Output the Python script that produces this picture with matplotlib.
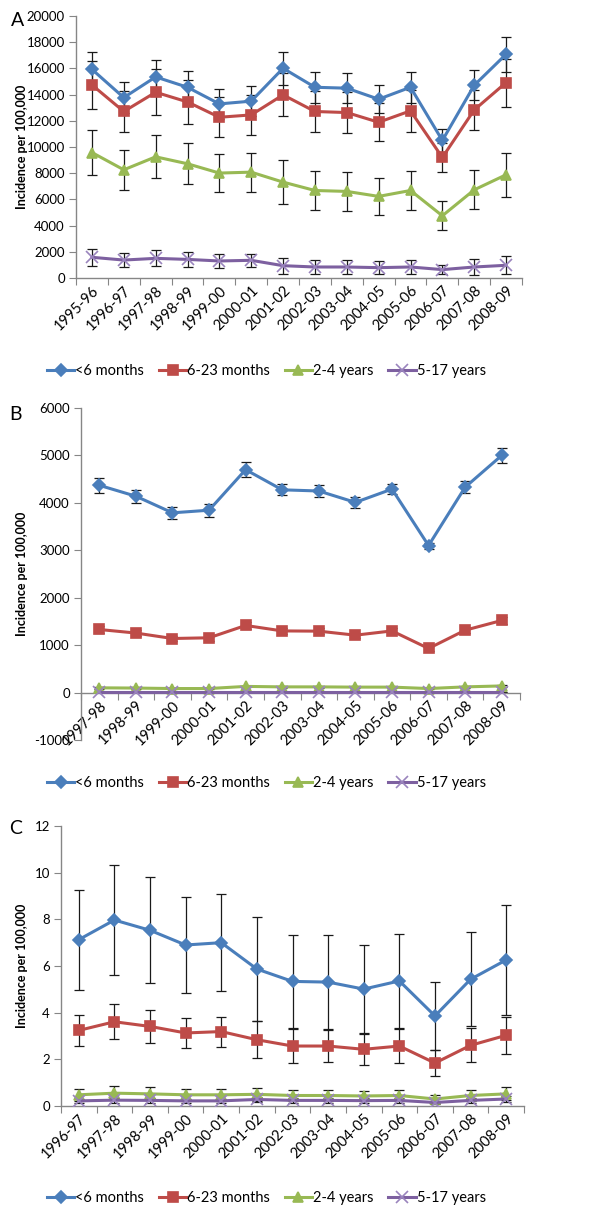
import matplotlib
matplotlib.use('Agg')
import matplotlib.pyplot as plt
from matplotlib.lines import Line2D

plt.rcParams['font.family'] = ['Lato', 'DejaVu Sans']

series_names = ['<6 months', '6-23 months', '2-4 years', '5-17 years']
colors = ['#4A7EBB', '#BE4B48', '#98B954', '#7D60A0']
markers = ['D', 's', '^', 'x']
msizes = [6.5, 7.5, 7.5, 8]

# panel A
years_a = ['1995-96', '1996-97', '1997-98', '1998-99', '1999-00', '2000-01', '2001-02',
           '2002-03', '2003-04', '2004-05', '2005-06', '2006-07', '2007-08', '2008-09']
a_lt6m = [15930, 13770, 15350, 14560, 13290, 13500, 16010, 14560, 14490, 13650, 14560, 10500, 14710, 17080]
a_6_23m = [14740, 12710, 14180, 13440, 12270, 12450, 13980, 12710, 12630, 11890, 12760, 9200, 12830, 14920]
a_2_4y = [9580, 8260, 9250, 8720, 8010, 8080, 7320, 6680, 6610, 6230, 6680, 4750, 6730, 7880]
a_5_17y = [1580, 1370, 1500, 1420, 1300, 1350, 940, 840, 840, 790, 840, 640, 840, 970]
a_err_lt6m = [1350, 1200, 1300, 1220, 1120, 1150, 1270, 1170, 1140, 1060, 1170, 860, 1150, 1340]
a_err_6_23m = [1830, 1580, 1750, 1670, 1520, 1520, 1650, 1550, 1550, 1450, 1580, 1120, 1550, 1830]
a_err_2_4y = [1730, 1520, 1630, 1570, 1420, 1500, 1650, 1480, 1470, 1390, 1480, 1120, 1500, 1680]
a_err_5_17y = [630, 540, 610, 580, 500, 510, 610, 560, 530, 510, 560, 330, 610, 680]

# panel B
years_b = years_a[2:]
b_lt6m = [4370, 4140, 3790, 3845, 4700, 4275, 4250, 4010, 4290, 3100, 4330, 5000]
b_6_23m = [1330, 1255, 1140, 1155, 1415, 1300, 1295, 1210, 1300, 930, 1315, 1520]
b_2_4y = [100, 95, 85, 85, 130, 120, 120, 115, 115, 85, 120, 140]
b_5_17y = [5, 5, 5, 5, 5, 5, 5, 5, 5, 5, 5, 5]
b_err_lt6m = [155, 141, 126, 134, 155, 119, 134, 120, 105, 63, 127, 155]
b_err_6_23m = [70, 65, 60, 60, 65, 60, 60, 55, 60, 45, 60, 75]
b_err_2_4y = [15, 15, 12, 12, 18, 16, 16, 15, 15, 12, 16, 18]
b_err_5_17y = [2, 2, 2, 2, 2, 2, 2, 2, 2, 2, 2, 2]

# panel C
years_c = years_a[1:]
c_lt6m = [7.13, 7.97, 7.53, 6.90, 7.00, 5.87, 5.34, 5.31, 5.01, 5.36, 3.86, 5.43, 6.26]
c_6_23m = [3.24, 3.61, 3.41, 3.13, 3.19, 2.84, 2.57, 2.57, 2.43, 2.57, 1.84, 2.60, 3.03]
c_2_4y = [0.48, 0.55, 0.52, 0.48, 0.48, 0.50, 0.45, 0.45, 0.43, 0.45, 0.30, 0.45, 0.52]
c_5_17y = [0.22, 0.25, 0.24, 0.22, 0.22, 0.28, 0.24, 0.24, 0.23, 0.24, 0.15, 0.24, 0.30]
c_err_lt6m = [2.14, 2.36, 2.27, 2.06, 2.09, 2.22, 2.00, 2.02, 1.88, 2.01, 1.45, 2.01, 2.37]
c_err_6_23m = [0.66, 0.75, 0.72, 0.64, 0.64, 0.80, 0.73, 0.70, 0.67, 0.74, 0.57, 0.73, 0.80]
c_err_2_4y = [0.27, 0.30, 0.28, 0.25, 0.27, 0.28, 0.24, 0.24, 0.23, 0.24, 0.18, 0.25, 0.28]
c_err_5_17y = [0.10, 0.11, 0.10, 0.10, 0.10, 0.11, 0.10, 0.10, 0.10, 0.10, 0.08, 0.10, 0.11]

FIG_W, FIG_H = 605, 1208


def draw_panel(rect_px, years, values, errors, ylim, yticks, zero_axis=False):
    # rect_px: left, top, right, bottom in figure pixels
    l, t, r, b = rect_px
    ax = fig.add_axes([l / FIG_W, 1 - b / FIG_H, (r - l) / FIG_W, (b - t) / FIG_H])
    if zero_axis:
        ax.spines['bottom'].set_position(('data', 0))
    x = list(range(len(years)))
    for vals, errs, c, m, ms in zip(values, errors, colors, markers, msizes):
        ax.errorbar(x, vals, yerr=errs, fmt='none', ecolor='#1a1a1a', elinewidth=0.9,
                    capsize=3.5, capthick=0.9, zorder=2)
        mec = c if m != 'x' else '#9a84bd'
        ax.plot(x, vals, color=c, lw=2.2, marker=m, ms=ms, mec=mec, mew=1.2, zorder=3)
    ax.set_xlim(-0.5, len(years) - 0.5)
    ax.set_ylim(*ylim)
    ax.set_yticks(yticks)
    ax.set_yticklabels([str(t) for t in yticks], fontsize=9.5)
    ax.set_xticks([i + 0.5 for i in range(-1, len(years))])
    ax.set_xticklabels([])
    ax.set_xticks(x, minor=True)
    ax.set_xticklabels(years, minor=True, rotation=45, ha='right', rotation_mode='anchor',
                       fontsize=10.5)
    ax.tick_params(axis='x', which='minor', length=0, pad=4)
    ax.tick_params(axis='x', which='major', length=5, color='#868686', direction='out')
    ax.tick_params(axis='y', length=5, color='#868686', direction='out', pad=3)
    for s in ['top', 'right']:
        ax.spines[s].set_visible(False)
    for s in ['left', 'bottom']:
        ax.spines[s].set_color('#868686')
        ax.spines[s].set_linewidth(1.0)
    ax.set_ylabel('Incidence per 100,000', fontsize=9, fontweight='bold')
    ax.yaxis.set_label_coords((28 - l) / (r - l), 0.5)
    return ax


fig = plt.figure(figsize=(FIG_W / 100, FIG_H / 100), dpi=100)

draw_panel((76, 16, 522, 278), years_a, [a_lt6m, a_6_23m, a_2_4y, a_5_17y],
           [a_err_lt6m, a_err_6_23m, a_err_2_4y, a_err_5_17y],
           (0, 20000), list(range(0, 20001, 2000)))

draw_panel((81, 408, 520, 740), years_b, [b_lt6m, b_6_23m, b_2_4y, b_5_17y],
           [b_err_lt6m, b_err_6_23m, b_err_2_4y, b_err_5_17y],
           (-1000, 6000), list(range(-1000, 6001, 1000)), zero_axis=True)

draw_panel((61, 826, 524, 1106), years_c, [c_lt6m, c_6_23m, c_2_4y, c_5_17y],
           [c_err_lt6m, c_err_6_23m, c_err_2_4y, c_err_5_17y],
           (0, 12), list(range(0, 13, 2)))

fig.text(11 / FIG_W, 1 - 21 / FIG_H, 'A', fontsize=14, va='center', ha='left')
fig.text(9 / FIG_W, 1 - 415 / FIG_H, 'B', fontsize=14, va='center', ha='left')
fig.text(9 / FIG_W, 1 - 829 / FIG_H, 'C', fontsize=14, va='center', ha='left')

handles = []
for c, m, ms in zip(colors, markers, msizes):
    mec = c if m != 'x' else '#9a84bd'
    handles.append(Line2D([], [], color=c, lw=2.2, marker=m, ms=ms, mec=mec, mew=1.2))

for ypix in [371, 783, 1198]:
    fig.legend(handles, series_names, loc='center', bbox_to_anchor=(0.44, 1 - ypix / FIG_H),
               ncol=4, frameon=False, fontsize=10.5, handlelength=1.9, handletextpad=0.05,
               columnspacing=1.0, borderpad=0)

fig.savefig('out.png', dpi=100)
